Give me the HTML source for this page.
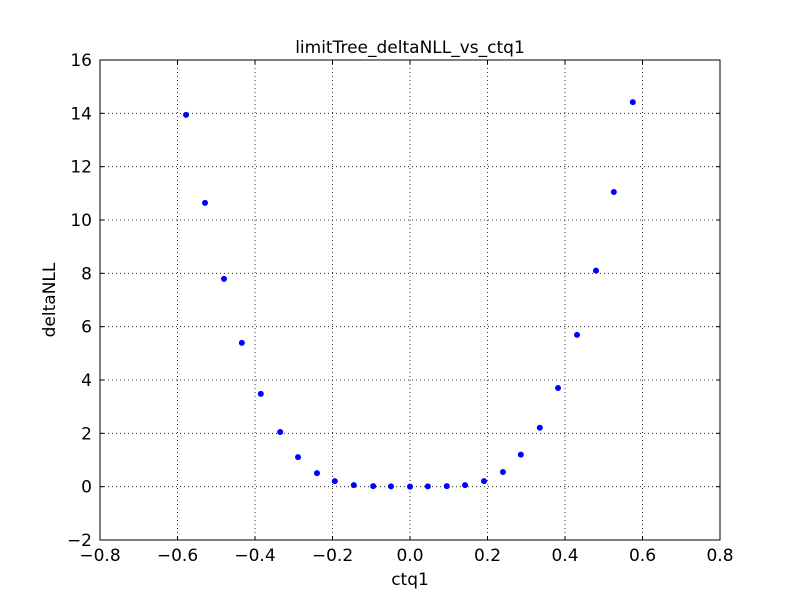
<!DOCTYPE html>
<html><head><meta charset="utf-8"><style>
html,body{margin:0;padding:0;background:#fff;}
svg text{font-family:"DejaVu Sans","Liberation Sans",sans-serif;}
</style></head><body>
<svg id="chart" width="800" height="600" xmlns="http://www.w3.org/2000/svg">
<rect width="800" height="600" fill="#fff"/>
<g id="grid"></g>
<g id="points"></g>
<rect x="100" y="60" width="620" height="480" fill="none" stroke="#000" stroke-width="1"/>
<g id="ticks"></g>
<text x="410" y="53" text-anchor="middle" font-size="17">limitTree_deltaNLL_vs_ctq1</text>
<text x="410" y="585" text-anchor="middle" font-size="17">ctq1</text>
<text x="55" y="300" text-anchor="middle" font-size="17" transform="rotate(-90 55 300)">deltaNLL</text>
</svg>
<script>
const xValues=[-0.578,-0.529,-0.48,-0.434,-0.385,-0.335,-0.289,-0.24,-0.194,-0.145,-0.095,-0.049,0,0.046,0.095,0.142,0.191,0.24,0.286,0.335,0.382,0.431,0.48,0.526,0.575];
const yValues=[13.94,10.64,7.79,5.39,3.48,2.05,1.11,0.51,0.21,0.06,0.02,0.01,0,0.01,0.02,0.06,0.21,0.55,1.2,2.21,3.7,5.69,8.1,11.05,14.42];
const xTicks=[-0.8,-0.6,-0.4,-0.2,0.0,0.2,0.4,0.6,0.8];
const xTickLabels=["\u22120.8","\u22120.6","\u22120.4","\u22120.2","0.0","0.2","0.4","0.6","0.8"];
const yTicks=[-2,0,2,4,6,8,10,12,14,16];
const yTickLabels=["\u22122","0","2","4","6","8","10","12","14","16"];
const NS="http://www.w3.org/2000/svg";
const X0=100,X1=720,Y0=540,Y1=60,xmin=-0.8,xmax=0.8,ymin=-2,ymax=16;
function sx(v){return X0+(v-xmin)/(xmax-xmin)*(X1-X0);}
function sy(v){return Y0-(v-ymin)/(ymax-ymin)*(Y0-Y1);}
function mk(tag,attrs,parent){const e=document.createElementNS(NS,tag);for(const k in attrs)e.setAttribute(k,attrs[k]);parent.appendChild(e);return e;}
const grid=document.getElementById('grid'),ticks=document.getElementById('ticks'),pts=document.getElementById('points');
xTicks.forEach((t,i)=>{const x=sx(t);
 const g=mk('line',{x1:x,x2:x,y1:Y1,y2:Y0,stroke:'#000','stroke-dasharray':'1,3','stroke-width':0.8},grid);
 
 
 mk('line',{x1:x,x2:x,y1:Y0,y2:Y0-4,stroke:'#000'},ticks);
 mk('line',{x1:x,x2:x,y1:Y1,y2:Y1+4,stroke:'#000'},ticks);
 const tx=mk('text',{x:x,y:Y0+21,'text-anchor':'middle','font-size':17},ticks);tx.textContent=xTickLabels[i];
 
 
});
yTicks.forEach((t,i)=>{const y=sy(t);
 const g=mk('line',{x1:X0,x2:X1,y1:y,y2:y,stroke:'#000','stroke-dasharray':'1,3','stroke-width':0.8},grid);
 
 
 mk('line',{x1:X0,x2:X0+4,y1:y,y2:y,stroke:'#000'},ticks);
 mk('line',{x1:X1,x2:X1-4,y1:y,y2:y,stroke:'#000'},ticks);
 const tx=mk('text',{x:X0-8,y:y+6,'text-anchor':'end','font-size':17},ticks);tx.textContent=yTickLabels[i];
 
 
});
xValues.forEach((v,i)=>{
 const c=mk('circle',{cx:sx(v),cy:sy(yValues[i]),r:3,fill:'#0000ff'},pts);
 
 
});
</script>
</body></html>
